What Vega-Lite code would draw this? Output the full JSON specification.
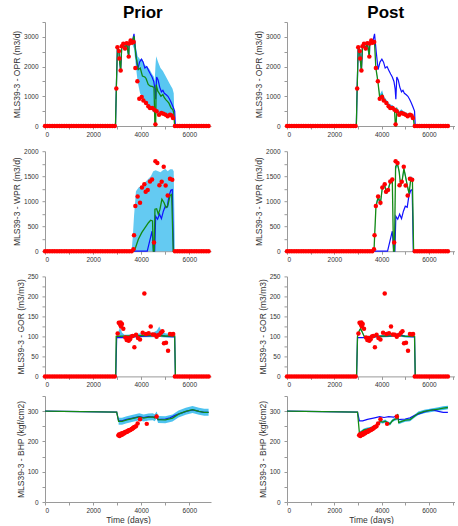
{
"$schema": "https://vega.github.io/schema/vega-lite/v6.json",
"padding": {"left": 12, "top": 4, "right": 0, "bottom": 0},
"autosize": {"type": "pad"},
"config": {
  "font": "Liberation Sans",
  "view": {"stroke": null},
  "axis": {"grid": false, "domainColor": "#9a9a9a", "tickColor": "#9a9a9a", "tickSize": 3, "labelFont": "Liberation Sans", "labelFontSize": 6.5, "labelColor": "#333333", "titleFont": "Liberation Sans", "titleFontSize": 8.5, "titleFontWeight": "normal", "titleColor": "#333333", "titlePadding": 2},
  "axisX": {"labelPadding": 2},
  "axisY": {"labelPadding": 4},
  "title": {"font": "Liberation Sans", "fontSize": 17, "fontWeight": "bold", "color": "#000000", "anchor": "middle", "offset": -0.5}
},
"datasets": {
"obs": [
{"var":"OPR","t":0,"val":0},{"var":"OPR","t":100,"val":0},{"var":"OPR","t":200,"val":0},{"var":"OPR","t":300,"val":0},{"var":"OPR","t":400,"val":0},{"var":"OPR","t":500,"val":0},{"var":"OPR","t":600,"val":0},{"var":"OPR","t":700,"val":0},{"var":"OPR","t":800,"val":0},{"var":"OPR","t":900,"val":0},{"var":"OPR","t":1000,"val":0},{"var":"OPR","t":1100,"val":0},{"var":"OPR","t":1200,"val":0},{"var":"OPR","t":1300,"val":0},{"var":"OPR","t":1400,"val":0},{"var":"OPR","t":1500,"val":0},{"var":"OPR","t":1600,"val":0},{"var":"OPR","t":1700,"val":0},{"var":"OPR","t":1800,"val":0},{"var":"OPR","t":1900,"val":0},{"var":"OPR","t":2000,"val":0},{"var":"OPR","t":2100,"val":0},{"var":"OPR","t":2200,"val":0},{"var":"OPR","t":2300,"val":0},{"var":"OPR","t":2400,"val":0},{"var":"OPR","t":2500,"val":0},{"var":"OPR","t":2600,"val":0},{"var":"OPR","t":2700,"val":0},{"var":"OPR","t":2800,"val":0},{"var":"OPR","t":2900,"val":0},
{"var":"OPR","t":2965,"val":1260},{"var":"OPR","t":3010,"val":2650},{"var":"OPR","t":3075,"val":2520},{"var":"OPR","t":3090,"val":2270},{"var":"OPR","t":3145,"val":1865},{"var":"OPR","t":3190,"val":2685},{"var":"OPR","t":3255,"val":2765},{"var":"OPR","t":3325,"val":2605},{"var":"OPR","t":3395,"val":2785},{"var":"OPR","t":3480,"val":2335},{"var":"OPR","t":3495,"val":2775},{"var":"OPR","t":3560,"val":2875},{"var":"OPR","t":3615,"val":2800},{"var":"OPR","t":3685,"val":2830},{"var":"OPR","t":3755,"val":1955},{"var":"OPR","t":3840,"val":1505},{"var":"OPR","t":3920,"val":920},{"var":"OPR","t":4020,"val":980},{"var":"OPR","t":4090,"val":855},{"var":"OPR","t":4200,"val":775},{"var":"OPR","t":4295,"val":665},{"var":"OPR","t":4365,"val":605},{"var":"OPR","t":4460,"val":605},{"var":"OPR","t":4545,"val":550},{"var":"OPR","t":4590,"val":55},{"var":"OPR","t":4640,"val":495},{"var":"OPR","t":4740,"val":380},{"var":"OPR","t":4835,"val":440},{"var":"OPR","t":4920,"val":415},{"var":"OPR","t":5015,"val":380},{"var":"OPR","t":5100,"val":325},{"var":"OPR","t":5195,"val":380},{"var":"OPR","t":5265,"val":350},{"var":"OPR","t":5320,"val":270},
{"var":"OPR","t":5400,"val":0},{"var":"OPR","t":5500,"val":0},{"var":"OPR","t":5600,"val":0},{"var":"OPR","t":5700,"val":0},{"var":"OPR","t":5800,"val":0},{"var":"OPR","t":5900,"val":0},{"var":"OPR","t":6000,"val":0},{"var":"OPR","t":6100,"val":0},{"var":"OPR","t":6200,"val":0},{"var":"OPR","t":6300,"val":0},{"var":"OPR","t":6400,"val":0},{"var":"OPR","t":6500,"val":0},{"var":"OPR","t":6600,"val":0},{"var":"OPR","t":6700,"val":0},{"var":"OPR","t":6800,"val":0},
{"var":"WPR","t":0,"val":0},{"var":"WPR","t":100,"val":0},{"var":"WPR","t":200,"val":0},{"var":"WPR","t":300,"val":0},{"var":"WPR","t":400,"val":0},{"var":"WPR","t":500,"val":0},{"var":"WPR","t":600,"val":0},{"var":"WPR","t":700,"val":0},{"var":"WPR","t":800,"val":0},{"var":"WPR","t":900,"val":0},{"var":"WPR","t":1000,"val":0},{"var":"WPR","t":1100,"val":0},{"var":"WPR","t":1200,"val":0},{"var":"WPR","t":1300,"val":0},{"var":"WPR","t":1400,"val":0},{"var":"WPR","t":1500,"val":0},{"var":"WPR","t":1600,"val":0},{"var":"WPR","t":1700,"val":0},{"var":"WPR","t":1800,"val":0},{"var":"WPR","t":1900,"val":0},{"var":"WPR","t":2000,"val":0},{"var":"WPR","t":2100,"val":0},{"var":"WPR","t":2200,"val":0},{"var":"WPR","t":2300,"val":0},{"var":"WPR","t":2400,"val":0},{"var":"WPR","t":2500,"val":0},{"var":"WPR","t":2600,"val":0},{"var":"WPR","t":2700,"val":0},{"var":"WPR","t":2800,"val":0},{"var":"WPR","t":2900,"val":0},{"var":"WPR","t":3000,"val":0},{"var":"WPR","t":3100,"val":0},{"var":"WPR","t":3200,"val":0},{"var":"WPR","t":3300,"val":0},{"var":"WPR","t":3400,"val":0},{"var":"WPR","t":3500,"val":0},{"var":"WPR","t":3600,"val":0},
{"var":"WPR","t":3675,"val":40},{"var":"WPR","t":3700,"val":320},{"var":"WPR","t":3755,"val":905},{"var":"WPR","t":3850,"val":1095},{"var":"WPR","t":3950,"val":970},{"var":"WPR","t":4030,"val":1275},{"var":"WPR","t":4130,"val":1340},{"var":"WPR","t":4185,"val":1190},{"var":"WPR","t":4270,"val":1225},{"var":"WPR","t":4365,"val":1395},{"var":"WPR","t":4450,"val":1435},{"var":"WPR","t":4530,"val":175},{"var":"WPR","t":4590,"val":1800},{"var":"WPR","t":4670,"val":1765},{"var":"WPR","t":4755,"val":1320},{"var":"WPR","t":4850,"val":1390},{"var":"WPR","t":4935,"val":1690},{"var":"WPR","t":5015,"val":1315},{"var":"WPR","t":5100,"val":1115},{"var":"WPR","t":5195,"val":1450},{"var":"WPR","t":5290,"val":1430},
{"var":"WPR","t":5400,"val":0},{"var":"WPR","t":5500,"val":0},{"var":"WPR","t":5600,"val":0},{"var":"WPR","t":5700,"val":0},{"var":"WPR","t":5800,"val":0},{"var":"WPR","t":5900,"val":0},{"var":"WPR","t":6000,"val":0},{"var":"WPR","t":6100,"val":0},{"var":"WPR","t":6200,"val":0},{"var":"WPR","t":6300,"val":0},{"var":"WPR","t":6400,"val":0},{"var":"WPR","t":6500,"val":0},{"var":"WPR","t":6600,"val":0},{"var":"WPR","t":6700,"val":0},{"var":"WPR","t":6800,"val":0},
{"var":"GOR","t":0,"val":0},{"var":"GOR","t":100,"val":0},{"var":"GOR","t":200,"val":0},{"var":"GOR","t":300,"val":0},{"var":"GOR","t":400,"val":0},{"var":"GOR","t":500,"val":0},{"var":"GOR","t":600,"val":0},{"var":"GOR","t":700,"val":0},{"var":"GOR","t":800,"val":0},{"var":"GOR","t":900,"val":0},{"var":"GOR","t":1000,"val":0},{"var":"GOR","t":1100,"val":0},{"var":"GOR","t":1200,"val":0},{"var":"GOR","t":1300,"val":0},{"var":"GOR","t":1400,"val":0},{"var":"GOR","t":1500,"val":0},{"var":"GOR","t":1600,"val":0},{"var":"GOR","t":1700,"val":0},{"var":"GOR","t":1800,"val":0},{"var":"GOR","t":1900,"val":0},{"var":"GOR","t":2000,"val":0},{"var":"GOR","t":2100,"val":0},{"var":"GOR","t":2200,"val":0},{"var":"GOR","t":2300,"val":0},{"var":"GOR","t":2400,"val":0},{"var":"GOR","t":2500,"val":0},{"var":"GOR","t":2600,"val":0},{"var":"GOR","t":2700,"val":0},{"var":"GOR","t":2800,"val":0},{"var":"GOR","t":2900,"val":0},
{"var":"GOR","t":3020,"val":107},{"var":"GOR","t":3065,"val":134},{"var":"GOR","t":3120,"val":130},{"var":"GOR","t":3145,"val":135},{"var":"GOR","t":3160,"val":125},{"var":"GOR","t":3200,"val":131},{"var":"GOR","t":3255,"val":119},{"var":"GOR","t":3340,"val":97},{"var":"GOR","t":3395,"val":91},{"var":"GOR","t":3435,"val":96},{"var":"GOR","t":3480,"val":89},{"var":"GOR","t":3535,"val":93},{"var":"GOR","t":3590,"val":100},{"var":"GOR","t":3645,"val":101},{"var":"GOR","t":3715,"val":73},{"var":"GOR","t":3785,"val":104},{"var":"GOR","t":3865,"val":96},{"var":"GOR","t":3950,"val":92},{"var":"GOR","t":4060,"val":109},{"var":"GOR","t":4130,"val":207},{"var":"GOR","t":4200,"val":106},{"var":"GOR","t":4310,"val":108},{"var":"GOR","t":4395,"val":125},{"var":"GOR","t":4475,"val":105},{"var":"GOR","t":4560,"val":104},{"var":"GOR","t":4640,"val":99},{"var":"GOR","t":4740,"val":104},{"var":"GOR","t":4820,"val":109},{"var":"GOR","t":4880,"val":113},{"var":"GOR","t":4945,"val":83},{"var":"GOR","t":5030,"val":84},{"var":"GOR","t":5115,"val":64},{"var":"GOR","t":5195,"val":106},{"var":"GOR","t":5280,"val":105},{"var":"GOR","t":5330,"val":106},
{"var":"GOR","t":5400,"val":0},{"var":"GOR","t":5500,"val":0},{"var":"GOR","t":5600,"val":0},{"var":"GOR","t":5700,"val":0},{"var":"GOR","t":5800,"val":0},{"var":"GOR","t":5900,"val":0},{"var":"GOR","t":6000,"val":0},{"var":"GOR","t":6100,"val":0},{"var":"GOR","t":6200,"val":0},{"var":"GOR","t":6300,"val":0},{"var":"GOR","t":6400,"val":0},{"var":"GOR","t":6500,"val":0},{"var":"GOR","t":6600,"val":0},{"var":"GOR","t":6700,"val":0},{"var":"GOR","t":6800,"val":0},
{"var":"BHP","t":3050,"val":220},{"var":"BHP","t":3075,"val":223},{"var":"BHP","t":3100,"val":218},{"var":"BHP","t":3125,"val":224},{"var":"BHP","t":3150,"val":221},{"var":"BHP","t":3175,"val":226},{"var":"BHP","t":3200,"val":222},{"var":"BHP","t":3225,"val":227},{"var":"BHP","t":3250,"val":225},{"var":"BHP","t":3275,"val":229},{"var":"BHP","t":3300,"val":227},{"var":"BHP","t":3330,"val":231},{"var":"BHP","t":3360,"val":230},{"var":"BHP","t":3390,"val":233},{"var":"BHP","t":3420,"val":232},{"var":"BHP","t":3450,"val":235},{"var":"BHP","t":3480,"val":236},{"var":"BHP","t":3510,"val":237},{"var":"BHP","t":3540,"val":238},{"var":"BHP","t":3570,"val":239},{"var":"BHP","t":3600,"val":241},{"var":"BHP","t":3630,"val":242},{"var":"BHP","t":3660,"val":244},{"var":"BHP","t":3690,"val":246},{"var":"BHP","t":3720,"val":248},{"var":"BHP","t":3780,"val":250},{"var":"BHP","t":3850,"val":259},{"var":"BHP","t":3950,"val":273},{"var":"BHP","t":4230,"val":258},{"var":"BHP","t":4640,"val":282}
],
"base": [
{"var":"OPR","t":0,"val":0},{"var":"OPR","t":2930,"val":0},{"var":"OPR","t":2965,"val":1260},{"var":"OPR","t":3010,"val":2650},{"var":"OPR","t":3075,"val":2520},{"var":"OPR","t":3090,"val":2270},{"var":"OPR","t":3145,"val":1865},{"var":"OPR","t":3190,"val":2685},{"var":"OPR","t":3255,"val":2765},{"var":"OPR","t":3325,"val":2605},{"var":"OPR","t":3395,"val":2785},{"var":"OPR","t":3480,"val":2335},{"var":"OPR","t":3495,"val":2775},{"var":"OPR","t":3560,"val":2875},{"var":"OPR","t":3615,"val":2800},{"var":"OPR","t":3700,"val":3100},{"var":"OPR","t":3770,"val":2500},{"var":"OPR","t":3850,"val":1900},{"var":"OPR","t":3930,"val":2150},{"var":"OPR","t":4010,"val":2250},{"var":"OPR","t":4080,"val":2150},{"var":"OPR","t":4150,"val":1950},{"var":"OPR","t":4230,"val":2000},{"var":"OPR","t":4300,"val":1880},{"var":"OPR","t":4380,"val":1750},{"var":"OPR","t":4450,"val":1650},{"var":"OPR","t":4520,"val":1500},{"var":"OPR","t":4570,"val":1250},{"var":"OPR","t":4600,"val":900},{"var":"OPR","t":4640,"val":1650},{"var":"OPR","t":4700,"val":1550},{"var":"OPR","t":4770,"val":1300},{"var":"OPR","t":4840,"val":1150},{"var":"OPR","t":4900,"val":1200},{"var":"OPR","t":4960,"val":1100},{"var":"OPR","t":5040,"val":1050},{"var":"OPR","t":5110,"val":1000},{"var":"OPR","t":5180,"val":900},{"var":"OPR","t":5250,"val":780},{"var":"OPR","t":5320,"val":650},{"var":"OPR","t":5390,"val":500},{"var":"OPR","t":5420,"val":0},{"var":"OPR","t":6800,"val":0},
{"var":"WPR","t":0,"val":0},{"var":"WPR","t":4250,"val":0},{"var":"WPR","t":4350,"val":200},{"var":"WPR","t":4450,"val":400},{"var":"WPR","t":4510,"val":0},{"var":"WPR","t":4560,"val":0},{"var":"WPR","t":4600,"val":700},{"var":"WPR","t":4680,"val":640},{"var":"WPR","t":4760,"val":740},{"var":"WPR","t":4840,"val":650},{"var":"WPR","t":4920,"val":800},{"var":"WPR","t":5000,"val":900},{"var":"WPR","t":5080,"val":880},{"var":"WPR","t":5150,"val":1100},{"var":"WPR","t":5230,"val":1220},{"var":"WPR","t":5290,"val":1230},{"var":"WPR","t":5340,"val":0},{"var":"WPR","t":6800,"val":0},
{"var":"GOR","t":0,"val":0},{"var":"GOR","t":2940,"val":0},{"var":"GOR","t":2980,"val":97},{"var":"GOR","t":3300,"val":97},{"var":"GOR","t":3600,"val":99},{"var":"GOR","t":4000,"val":100},{"var":"GOR","t":4400,"val":101},{"var":"GOR","t":4700,"val":106},{"var":"GOR","t":4800,"val":103},{"var":"GOR","t":5000,"val":100},{"var":"GOR","t":5390,"val":99},{"var":"GOR","t":5420,"val":0},{"var":"GOR","t":6800,"val":0},
{"var":"BHP","t":0,"val":300},{"var":"BHP","t":2980,"val":297},{"var":"BHP","t":3060,"val":268},{"var":"BHP","t":3200,"val":268},{"var":"BHP","t":3400,"val":273},{"var":"BHP","t":3700,"val":278},{"var":"BHP","t":3920,"val":282},{"var":"BHP","t":4100,"val":279},{"var":"BHP","t":4300,"val":282},{"var":"BHP","t":4500,"val":280},{"var":"BHP","t":4600,"val":284},{"var":"BHP","t":4700,"val":272},{"var":"BHP","t":5000,"val":274},{"var":"BHP","t":5200,"val":278},{"var":"BHP","t":5400,"val":286},{"var":"BHP","t":5600,"val":292},{"var":"BHP","t":5900,"val":300},{"var":"BHP","t":6150,"val":304},{"var":"BHP","t":6400,"val":299},{"var":"BHP","t":6600,"val":296},{"var":"BHP","t":6800,"val":296}
],
"best": [
{"run":"Prior","var":"OPR","t":0,"val":0},{"run":"Prior","var":"OPR","t":2930,"val":0},{"run":"Prior","var":"OPR","t":2965,"val":1260},{"run":"Prior","var":"OPR","t":3010,"val":2650},{"run":"Prior","var":"OPR","t":3075,"val":2520},{"run":"Prior","var":"OPR","t":3090,"val":2270},{"run":"Prior","var":"OPR","t":3145,"val":1865},{"run":"Prior","var":"OPR","t":3190,"val":2685},{"run":"Prior","var":"OPR","t":3255,"val":2765},{"run":"Prior","var":"OPR","t":3325,"val":2605},{"run":"Prior","var":"OPR","t":3395,"val":2785},{"run":"Prior","var":"OPR","t":3480,"val":2335},{"run":"Prior","var":"OPR","t":3495,"val":2775},{"run":"Prior","var":"OPR","t":3560,"val":2875},{"run":"Prior","var":"OPR","t":3615,"val":2800},{"run":"Prior","var":"OPR","t":3700,"val":3020},{"run":"Prior","var":"OPR","t":3780,"val":2350},{"run":"Prior","var":"OPR","t":3880,"val":1900},{"run":"Prior","var":"OPR","t":3960,"val":1950},{"run":"Prior","var":"OPR","t":4050,"val":1680},{"run":"Prior","var":"OPR","t":4150,"val":1650},{"run":"Prior","var":"OPR","t":4200,"val":1600},{"run":"Prior","var":"OPR","t":4290,"val":1400},{"run":"Prior","var":"OPR","t":4380,"val":1340},{"run":"Prior","var":"OPR","t":4450,"val":1330},{"run":"Prior","var":"OPR","t":4530,"val":1300},{"run":"Prior","var":"OPR","t":4570,"val":0},{"run":"Prior","var":"OPR","t":4600,"val":0},{"run":"Prior","var":"OPR","t":4620,"val":1390},{"run":"Prior","var":"OPR","t":4690,"val":1170},{"run":"Prior","var":"OPR","t":4750,"val":1100},{"run":"Prior","var":"OPR","t":4820,"val":1000},{"run":"Prior","var":"OPR","t":4900,"val":1060},{"run":"Prior","var":"OPR","t":4960,"val":950},{"run":"Prior","var":"OPR","t":5030,"val":880},{"run":"Prior","var":"OPR","t":5100,"val":820},{"run":"Prior","var":"OPR","t":5150,"val":770},{"run":"Prior","var":"OPR","t":5240,"val":610},{"run":"Prior","var":"OPR","t":5310,"val":550},{"run":"Prior","var":"OPR","t":5350,"val":450},{"run":"Prior","var":"OPR","t":5390,"val":0},{"run":"Prior","var":"OPR","t":6800,"val":0},
{"run":"Post","var":"OPR","t":0,"val":0},{"run":"Post","var":"OPR","t":2930,"val":0},{"run":"Post","var":"OPR","t":2965,"val":1260},{"run":"Post","var":"OPR","t":3010,"val":2650},{"run":"Post","var":"OPR","t":3075,"val":2520},{"run":"Post","var":"OPR","t":3090,"val":2270},{"run":"Post","var":"OPR","t":3145,"val":1865},{"run":"Post","var":"OPR","t":3190,"val":2685},{"run":"Post","var":"OPR","t":3255,"val":2765},{"run":"Post","var":"OPR","t":3325,"val":2605},{"run":"Post","var":"OPR","t":3395,"val":2785},{"run":"Post","var":"OPR","t":3480,"val":2335},{"run":"Post","var":"OPR","t":3495,"val":2775},{"run":"Post","var":"OPR","t":3560,"val":2875},{"run":"Post","var":"OPR","t":3615,"val":2800},{"run":"Post","var":"OPR","t":3700,"val":2800},{"run":"Post","var":"OPR","t":3755,"val":1955},{"run":"Post","var":"OPR","t":3840,"val":1500},{"run":"Post","var":"OPR","t":3920,"val":950},{"run":"Post","var":"OPR","t":4020,"val":1050},{"run":"Post","var":"OPR","t":4090,"val":880},{"run":"Post","var":"OPR","t":4200,"val":780},{"run":"Post","var":"OPR","t":4295,"val":680},{"run":"Post","var":"OPR","t":4365,"val":620},{"run":"Post","var":"OPR","t":4460,"val":600},{"run":"Post","var":"OPR","t":4545,"val":540},{"run":"Post","var":"OPR","t":4580,"val":0},{"run":"Post","var":"OPR","t":4610,"val":0},{"run":"Post","var":"OPR","t":4640,"val":560},{"run":"Post","var":"OPR","t":4740,"val":420},{"run":"Post","var":"OPR","t":4835,"val":480},{"run":"Post","var":"OPR","t":4920,"val":430},{"run":"Post","var":"OPR","t":5015,"val":400},{"run":"Post","var":"OPR","t":5100,"val":360},{"run":"Post","var":"OPR","t":5195,"val":390},{"run":"Post","var":"OPR","t":5265,"val":360},{"run":"Post","var":"OPR","t":5335,"val":300},{"run":"Post","var":"OPR","t":5380,"val":0},{"run":"Post","var":"OPR","t":6800,"val":0},
{"run":"Prior","var":"WPR","t":0,"val":0},{"run":"Prior","var":"WPR","t":3690,"val":0},{"run":"Prior","var":"WPR","t":3740,"val":40},{"run":"Prior","var":"WPR","t":3880,"val":240},{"run":"Prior","var":"WPR","t":4020,"val":370},{"run":"Prior","var":"WPR","t":4160,"val":470},{"run":"Prior","var":"WPR","t":4300,"val":570},{"run":"Prior","var":"WPR","t":4390,"val":620},{"run":"Prior","var":"WPR","t":4470,"val":605},{"run":"Prior","var":"WPR","t":4500,"val":0},{"run":"Prior","var":"WPR","t":4540,"val":0},{"run":"Prior","var":"WPR","t":4570,"val":840},{"run":"Prior","var":"WPR","t":4640,"val":850},{"run":"Prior","var":"WPR","t":4710,"val":740},{"run":"Prior","var":"WPR","t":4780,"val":840},{"run":"Prior","var":"WPR","t":4860,"val":1040},{"run":"Prior","var":"WPR","t":4950,"val":970},{"run":"Prior","var":"WPR","t":5030,"val":870},{"run":"Prior","var":"WPR","t":5100,"val":900},{"run":"Prior","var":"WPR","t":5200,"val":1115},{"run":"Prior","var":"WPR","t":5265,"val":1135},{"run":"Prior","var":"WPR","t":5330,"val":0},{"run":"Prior","var":"WPR","t":6800,"val":0},
{"run":"Post","var":"WPR","t":0,"val":0},{"run":"Post","var":"WPR","t":3650,"val":0},{"run":"Post","var":"WPR","t":3680,"val":40},{"run":"Post","var":"WPR","t":3705,"val":320},{"run":"Post","var":"WPR","t":3760,"val":900},{"run":"Post","var":"WPR","t":3850,"val":1075},{"run":"Post","var":"WPR","t":3950,"val":965},{"run":"Post","var":"WPR","t":4030,"val":1275},{"run":"Post","var":"WPR","t":4130,"val":1320},{"run":"Post","var":"WPR","t":4190,"val":1190},{"run":"Post","var":"WPR","t":4270,"val":1220},{"run":"Post","var":"WPR","t":4365,"val":1385},{"run":"Post","var":"WPR","t":4450,"val":1430},{"run":"Post","var":"WPR","t":4500,"val":0},{"run":"Post","var":"WPR","t":4540,"val":0},{"run":"Post","var":"WPR","t":4590,"val":1690},{"run":"Post","var":"WPR","t":4670,"val":1750},{"run":"Post","var":"WPR","t":4740,"val":1590},{"run":"Post","var":"WPR","t":4800,"val":1320},{"run":"Post","var":"WPR","t":4860,"val":1390},{"run":"Post","var":"WPR","t":4940,"val":1650},{"run":"Post","var":"WPR","t":5010,"val":1490},{"run":"Post","var":"WPR","t":5080,"val":1320},{"run":"Post","var":"WPR","t":5160,"val":1150},{"run":"Post","var":"WPR","t":5230,"val":1450},{"run":"Post","var":"WPR","t":5300,"val":1430},{"run":"Post","var":"WPR","t":5350,"val":0},{"run":"Post","var":"WPR","t":6800,"val":0},
{"run":"Prior","var":"GOR","t":0,"val":0},{"run":"Prior","var":"GOR","t":2940,"val":0},{"run":"Prior","var":"GOR","t":2960,"val":100},{"run":"Prior","var":"GOR","t":3500,"val":101},{"run":"Prior","var":"GOR","t":4000,"val":102},{"run":"Prior","var":"GOR","t":4500,"val":102},{"run":"Prior","var":"GOR","t":5000,"val":101},{"run":"Prior","var":"GOR","t":5390,"val":101},{"run":"Prior","var":"GOR","t":5420,"val":0},{"run":"Prior","var":"GOR","t":6800,"val":0},
{"run":"Post","var":"GOR","t":0,"val":0},{"run":"Post","var":"GOR","t":2940,"val":0},{"run":"Post","var":"GOR","t":2980,"val":100},{"run":"Post","var":"GOR","t":3060,"val":115},{"run":"Post","var":"GOR","t":3110,"val":119},{"run":"Post","var":"GOR","t":3170,"val":112},{"run":"Post","var":"GOR","t":3260,"val":100},{"run":"Post","var":"GOR","t":3350,"val":97},{"run":"Post","var":"GOR","t":3500,"val":99},{"run":"Post","var":"GOR","t":3800,"val":100},{"run":"Post","var":"GOR","t":4200,"val":101},{"run":"Post","var":"GOR","t":4500,"val":102},{"run":"Post","var":"GOR","t":4700,"val":104},{"run":"Post","var":"GOR","t":4800,"val":102},{"run":"Post","var":"GOR","t":5000,"val":100},{"run":"Post","var":"GOR","t":5390,"val":100},{"run":"Post","var":"GOR","t":5420,"val":0},{"run":"Post","var":"GOR","t":6800,"val":0},
{"run":"Prior","var":"BHP","t":0,"val":300},{"run":"Prior","var":"BHP","t":2980,"val":297},{"run":"Prior","var":"BHP","t":3060,"val":266},{"run":"Prior","var":"BHP","t":3200,"val":266},{"run":"Prior","var":"BHP","t":3400,"val":271},{"run":"Prior","var":"BHP","t":3700,"val":277},{"run":"Prior","var":"BHP","t":3920,"val":281},{"run":"Prior","var":"BHP","t":4100,"val":277},{"run":"Prior","var":"BHP","t":4300,"val":280},{"run":"Prior","var":"BHP","t":4480,"val":281},{"run":"Prior","var":"BHP","t":4560,"val":278},{"run":"Prior","var":"BHP","t":4640,"val":287},{"run":"Prior","var":"BHP","t":4700,"val":272},{"run":"Prior","var":"BHP","t":5000,"val":271},{"run":"Prior","var":"BHP","t":5300,"val":277},{"run":"Prior","var":"BHP","t":5550,"val":290},{"run":"Prior","var":"BHP","t":5850,"val":299},{"run":"Prior","var":"BHP","t":6130,"val":305},{"run":"Prior","var":"BHP","t":6400,"val":299},{"run":"Prior","var":"BHP","t":6620,"val":296},{"run":"Prior","var":"BHP","t":6800,"val":296},
{"run":"Post","var":"BHP","t":0,"val":300},{"run":"Post","var":"BHP","t":2980,"val":297},{"run":"Post","var":"BHP","t":3060,"val":228},{"run":"Post","var":"BHP","t":3150,"val":232},{"run":"Post","var":"BHP","t":3250,"val":238},{"run":"Post","var":"BHP","t":3350,"val":240},{"run":"Post","var":"BHP","t":3500,"val":243},{"run":"Post","var":"BHP","t":3650,"val":246},{"run":"Post","var":"BHP","t":3780,"val":252},{"run":"Post","var":"BHP","t":3880,"val":262},{"run":"Post","var":"BHP","t":3950,"val":266},{"run":"Post","var":"BHP","t":4050,"val":264},{"run":"Post","var":"BHP","t":4150,"val":267},{"run":"Post","var":"BHP","t":4250,"val":262},{"run":"Post","var":"BHP","t":4350,"val":258},{"run":"Post","var":"BHP","t":4450,"val":268},{"run":"Post","var":"BHP","t":4550,"val":273},{"run":"Post","var":"BHP","t":4640,"val":275},{"run":"Post","var":"BHP","t":4680,"val":290},{"run":"Post","var":"BHP","t":4720,"val":262},{"run":"Post","var":"BHP","t":4850,"val":266},{"run":"Post","var":"BHP","t":5000,"val":270},{"run":"Post","var":"BHP","t":5200,"val":272},{"run":"Post","var":"BHP","t":5400,"val":284},{"run":"Post","var":"BHP","t":5550,"val":293},{"run":"Post","var":"BHP","t":5800,"val":299},{"run":"Post","var":"BHP","t":6100,"val":303},{"run":"Post","var":"BHP","t":6400,"val":307},{"run":"Post","var":"BHP","t":6600,"val":310},{"run":"Post","var":"BHP","t":6800,"val":312}
],
"band": [
{"run":"Prior","var":"OPR","t":3615,"val":2780,"hi":2820},{"run":"Prior","var":"OPR","t":3700,"val":2600,"hi":3050},{"run":"Prior","var":"OPR","t":3780,"val":2000,"hi":2650},{"run":"Prior","var":"OPR","t":3850,"val":1500,"hi":2350},{"run":"Prior","var":"OPR","t":3950,"val":1100,"hi":2250},{"run":"Prior","var":"OPR","t":4050,"val":950,"hi":2250},{"run":"Prior","var":"OPR","t":4150,"val":800,"hi":2050},{"run":"Prior","var":"OPR","t":4250,"val":700,"hi":2000},{"run":"Prior","var":"OPR","t":4350,"val":620,"hi":1900},{"run":"Prior","var":"OPR","t":4450,"val":520,"hi":1750},{"run":"Prior","var":"OPR","t":4530,"val":450,"hi":1650},{"run":"Prior","var":"OPR","t":4560,"val":0,"hi":1500},{"run":"Prior","var":"OPR","t":4590,"val":0,"hi":2000},{"run":"Prior","var":"OPR","t":4620,"val":450,"hi":2350},{"run":"Prior","var":"OPR","t":4700,"val":420,"hi":2150},{"run":"Prior","var":"OPR","t":4800,"val":400,"hi":1950},{"run":"Prior","var":"OPR","t":4900,"val":380,"hi":1850},{"run":"Prior","var":"OPR","t":5000,"val":350,"hi":1700},{"run":"Prior","var":"OPR","t":5100,"val":320,"hi":1550},{"run":"Prior","var":"OPR","t":5200,"val":300,"hi":1400},{"run":"Prior","var":"OPR","t":5300,"val":280,"hi":1250},{"run":"Prior","var":"OPR","t":5350,"val":250,"hi":1100},{"run":"Prior","var":"OPR","t":5390,"val":0,"hi":0},
{"run":"Post","var":"OPR","t":3700,"val":2780,"hi":2830},{"run":"Post","var":"OPR","t":3755,"val":1930,"hi":2000},{"run":"Post","var":"OPR","t":3840,"val":1480,"hi":1560},{"run":"Post","var":"OPR","t":3920,"val":930,"hi":1050},{"run":"Post","var":"OPR","t":4020,"val":1020,"hi":1200},{"run":"Post","var":"OPR","t":4090,"val":860,"hi":1000},{"run":"Post","var":"OPR","t":4200,"val":760,"hi":880},{"run":"Post","var":"OPR","t":4295,"val":650,"hi":780},{"run":"Post","var":"OPR","t":4365,"val":600,"hi":720},{"run":"Post","var":"OPR","t":4460,"val":580,"hi":700},{"run":"Post","var":"OPR","t":4545,"val":520,"hi":640},{"run":"Post","var":"OPR","t":4580,"val":0,"hi":40},{"run":"Post","var":"OPR","t":4610,"val":0,"hi":40},{"run":"Post","var":"OPR","t":4640,"val":540,"hi":650},{"run":"Post","var":"OPR","t":4740,"val":400,"hi":500},{"run":"Post","var":"OPR","t":4835,"val":460,"hi":560},{"run":"Post","var":"OPR","t":4920,"val":410,"hi":500},{"run":"Post","var":"OPR","t":5015,"val":380,"hi":460},{"run":"Post","var":"OPR","t":5100,"val":340,"hi":420},{"run":"Post","var":"OPR","t":5195,"val":370,"hi":440},{"run":"Post","var":"OPR","t":5265,"val":340,"hi":400},{"run":"Post","var":"OPR","t":5335,"val":280,"hi":330},{"run":"Post","var":"OPR","t":5380,"val":0,"hi":0},
{"run":"Prior","var":"WPR","t":3600,"val":0,"hi":0},{"run":"Prior","var":"WPR","t":3650,"val":0,"hi":300},{"run":"Prior","var":"WPR","t":3700,"val":0,"hi":700},{"run":"Prior","var":"WPR","t":3780,"val":0,"hi":1200},{"run":"Prior","var":"WPR","t":3900,"val":0,"hi":1280},{"run":"Prior","var":"WPR","t":4000,"val":0,"hi":1300},{"run":"Prior","var":"WPR","t":4100,"val":0,"hi":1350},{"run":"Prior","var":"WPR","t":4200,"val":0,"hi":1400},{"run":"Prior","var":"WPR","t":4300,"val":0,"hi":1450},{"run":"Prior","var":"WPR","t":4400,"val":0,"hi":1500},{"run":"Prior","var":"WPR","t":4500,"val":0,"hi":1600},{"run":"Prior","var":"WPR","t":4600,"val":0,"hi":1620},{"run":"Prior","var":"WPR","t":4700,"val":0,"hi":1600},{"run":"Prior","var":"WPR","t":4800,"val":0,"hi":1580},{"run":"Prior","var":"WPR","t":4900,"val":0,"hi":1620},{"run":"Prior","var":"WPR","t":5000,"val":0,"hi":1650},{"run":"Prior","var":"WPR","t":5100,"val":0,"hi":1600},{"run":"Prior","var":"WPR","t":5200,"val":0,"hi":1640},{"run":"Prior","var":"WPR","t":5300,"val":0,"hi":1640},{"run":"Prior","var":"WPR","t":5350,"val":0,"hi":1600},{"run":"Prior","var":"WPR","t":5400,"val":0,"hi":0},
{"run":"Post","var":"WPR","t":3680,"val":0,"hi":60},{"run":"Post","var":"WPR","t":3705,"val":280,"hi":360},{"run":"Post","var":"WPR","t":3760,"val":850,"hi":960},{"run":"Post","var":"WPR","t":3850,"val":1020,"hi":1120},{"run":"Post","var":"WPR","t":3950,"val":900,"hi":1030},{"run":"Post","var":"WPR","t":4030,"val":1220,"hi":1320},{"run":"Post","var":"WPR","t":4130,"val":1270,"hi":1370},{"run":"Post","var":"WPR","t":4190,"val":1140,"hi":1240},{"run":"Post","var":"WPR","t":4270,"val":1170,"hi":1270},{"run":"Post","var":"WPR","t":4365,"val":1340,"hi":1440},{"run":"Post","var":"WPR","t":4450,"val":1380,"hi":1480},{"run":"Post","var":"WPR","t":4500,"val":0,"hi":30},{"run":"Post","var":"WPR","t":4540,"val":0,"hi":30},{"run":"Post","var":"WPR","t":4590,"val":1630,"hi":1730},{"run":"Post","var":"WPR","t":4670,"val":1700,"hi":1790},{"run":"Post","var":"WPR","t":4740,"val":1540,"hi":1630},{"run":"Post","var":"WPR","t":4800,"val":1270,"hi":1370},{"run":"Post","var":"WPR","t":4860,"val":1340,"hi":1440},{"run":"Post","var":"WPR","t":4940,"val":1600,"hi":1700},{"run":"Post","var":"WPR","t":5010,"val":1440,"hi":1540},{"run":"Post","var":"WPR","t":5080,"val":1270,"hi":1370},{"run":"Post","var":"WPR","t":5160,"val":1100,"hi":1200},{"run":"Post","var":"WPR","t":5230,"val":1400,"hi":1500},{"run":"Post","var":"WPR","t":5300,"val":1380,"hi":1480},{"run":"Post","var":"WPR","t":5350,"val":0,"hi":0},
{"run":"Prior","var":"GOR","t":2970,"val":97,"hi":103},{"run":"Prior","var":"GOR","t":3050,"val":97,"hi":112},{"run":"Prior","var":"GOR","t":3120,"val":98,"hi":122},{"run":"Prior","var":"GOR","t":3200,"val":97,"hi":110},{"run":"Prior","var":"GOR","t":3300,"val":96,"hi":104},{"run":"Prior","var":"GOR","t":3600,"val":97,"hi":105},{"run":"Prior","var":"GOR","t":4000,"val":98,"hi":108},{"run":"Prior","var":"GOR","t":4300,"val":98,"hi":108},{"run":"Prior","var":"GOR","t":4500,"val":98,"hi":110},{"run":"Prior","var":"GOR","t":4650,"val":98,"hi":115},{"run":"Prior","var":"GOR","t":4750,"val":99,"hi":125},{"run":"Prior","var":"GOR","t":4850,"val":98,"hi":112},{"run":"Prior","var":"GOR","t":5000,"val":97,"hi":108},{"run":"Prior","var":"GOR","t":5200,"val":97,"hi":106},{"run":"Prior","var":"GOR","t":5390,"val":97,"hi":105},
{"run":"Post","var":"GOR","t":2980,"val":97,"hi":103},{"run":"Post","var":"GOR","t":3060,"val":112,"hi":118},{"run":"Post","var":"GOR","t":3110,"val":116,"hi":122},{"run":"Post","var":"GOR","t":3170,"val":109,"hi":115},{"run":"Post","var":"GOR","t":3260,"val":97,"hi":103},{"run":"Post","var":"GOR","t":3350,"val":94,"hi":100},{"run":"Post","var":"GOR","t":3500,"val":96,"hi":102},{"run":"Post","var":"GOR","t":3800,"val":97,"hi":103},{"run":"Post","var":"GOR","t":4200,"val":98,"hi":104},{"run":"Post","var":"GOR","t":4500,"val":99,"hi":105},{"run":"Post","var":"GOR","t":4700,"val":101,"hi":107},{"run":"Post","var":"GOR","t":4800,"val":99,"hi":105},{"run":"Post","var":"GOR","t":5000,"val":97,"hi":103},{"run":"Post","var":"GOR","t":5390,"val":97,"hi":103},
{"run":"Prior","var":"BHP","t":3060,"val":255,"hi":278},{"run":"Prior","var":"BHP","t":3200,"val":255,"hi":278},{"run":"Prior","var":"BHP","t":3400,"val":260,"hi":283},{"run":"Prior","var":"BHP","t":3700,"val":266,"hi":289},{"run":"Prior","var":"BHP","t":3920,"val":270,"hi":293},{"run":"Prior","var":"BHP","t":4100,"val":266,"hi":289},{"run":"Prior","var":"BHP","t":4300,"val":269,"hi":292},{"run":"Prior","var":"BHP","t":4480,"val":270,"hi":293},{"run":"Prior","var":"BHP","t":4560,"val":267,"hi":290},{"run":"Prior","var":"BHP","t":4640,"val":276,"hi":299},{"run":"Prior","var":"BHP","t":4700,"val":261,"hi":284},{"run":"Prior","var":"BHP","t":5000,"val":260,"hi":283},{"run":"Prior","var":"BHP","t":5300,"val":266,"hi":289},{"run":"Prior","var":"BHP","t":5550,"val":279,"hi":302},{"run":"Prior","var":"BHP","t":5850,"val":288,"hi":311},{"run":"Prior","var":"BHP","t":6130,"val":294,"hi":317},{"run":"Prior","var":"BHP","t":6400,"val":288,"hi":311},{"run":"Prior","var":"BHP","t":6620,"val":285,"hi":308},{"run":"Prior","var":"BHP","t":6800,"val":285,"hi":308},
{"run":"Post","var":"BHP","t":3060,"val":223,"hi":233},{"run":"Post","var":"BHP","t":3150,"val":227,"hi":237},{"run":"Post","var":"BHP","t":3250,"val":233,"hi":243},{"run":"Post","var":"BHP","t":3350,"val":235,"hi":245},{"run":"Post","var":"BHP","t":3500,"val":238,"hi":248},{"run":"Post","var":"BHP","t":3650,"val":241,"hi":251},{"run":"Post","var":"BHP","t":3780,"val":247,"hi":257},{"run":"Post","var":"BHP","t":3880,"val":257,"hi":267},{"run":"Post","var":"BHP","t":3950,"val":261,"hi":271},{"run":"Post","var":"BHP","t":4050,"val":259,"hi":269},{"run":"Post","var":"BHP","t":4150,"val":262,"hi":272},{"run":"Post","var":"BHP","t":4250,"val":257,"hi":267},{"run":"Post","var":"BHP","t":4350,"val":253,"hi":263},{"run":"Post","var":"BHP","t":4450,"val":263,"hi":273},{"run":"Post","var":"BHP","t":4550,"val":268,"hi":278},{"run":"Post","var":"BHP","t":4640,"val":270,"hi":280},{"run":"Post","var":"BHP","t":4680,"val":285,"hi":295},{"run":"Post","var":"BHP","t":4720,"val":257,"hi":267},{"run":"Post","var":"BHP","t":4850,"val":261,"hi":271},{"run":"Post","var":"BHP","t":5000,"val":265,"hi":275},{"run":"Post","var":"BHP","t":5200,"val":267,"hi":277},{"run":"Post","var":"BHP","t":5400,"val":279,"hi":289},{"run":"Post","var":"BHP","t":5550,"val":287,"hi":299},{"run":"Post","var":"BHP","t":5800,"val":293,"hi":305},{"run":"Post","var":"BHP","t":6100,"val":297,"hi":309},{"run":"Post","var":"BHP","t":6400,"val":301,"hi":313},{"run":"Post","var":"BHP","t":6600,"val":304,"hi":316},{"run":"Post","var":"BHP","t":6800,"val":306,"hi":318}
]
},
"spacing": 42,
"hconcat": [
{
 "title": {"text": "Prior", "dx": 31},
 "spacing": 7,
 "vconcat": [
  {"spacing": 10.2, "vconcat": [
   {"width": 166, "height": 104,
    "encoding": {
     "x": {"field": "t", "type": "quantitative", "scale": {"domain": [0, 6900], "nice": false}, "axis": {"values": [0,1000,2000,3000,4000,5000,6000], "labelExpr": "datum.value % 2000 === 0 ? datum.label : ''", "format": "d", "title": null}},
     "y": {"field": "val", "type": "quantitative", "scale": {"domain": [0, 3500], "nice": false}, "axis": {"values": [0,500,1000,1500,2000,2500,3000,3500], "labelExpr": "datum.value % 1000 === 0 && datum.value < 3500 ? datum.label : ''", "format": "d", "title": "MLS39-3 - OPR (m3/d)"}}
    },
    "layer": [
     {"data": {"name": "band"}, "transform": [{"filter": "datum.run === 'Prior' && datum.var === 'OPR'"}], "mark": {"type": "area", "color": "#22B4EC", "opacity": 0.75}, "encoding": {"y2": {"field": "hi"}}},
     {"data": {"name": "base"}, "transform": [{"filter": "datum.var === 'OPR'"}], "mark": {"type": "line", "color": "#1010FF", "strokeWidth": 1.2}, "encoding": {}},
     {"data": {"name": "best"}, "transform": [{"filter": "datum.run === 'Prior' && datum.var === 'OPR'"}], "mark": {"type": "line", "color": "#138A13", "strokeWidth": 1.3}, "encoding": {}},
     {"data": {"name": "obs"}, "transform": [{"filter": "datum.var === 'OPR'"}], "mark": {"type": "circle", "color": "#FF0000", "size": 20, "opacity": 1}, "encoding": {}}
    ]},
   {"width": 166, "height": 100,
    "encoding": {
     "x": {"field": "t", "type": "quantitative", "scale": {"domain": [0, 6900], "nice": false}, "axis": {"values": [0,1000,2000,3000,4000,5000,6000], "labelExpr": "datum.value % 2000 === 0 ? datum.label : ''", "format": "d", "title": null}},
     "y": {"field": "val", "type": "quantitative", "scale": {"domain": [0, 2000], "nice": false}, "axis": {"values": [0,250,500,750,1000,1250,1500,1750,2000], "labelExpr": "datum.value % 500 === 0 ? datum.label : ''", "format": "d", "title": "MLS39-3 - WPR (m3/d)"}}
    },
    "layer": [
     {"data": {"name": "band"}, "transform": [{"filter": "datum.run === 'Prior' && datum.var === 'WPR'"}], "mark": {"type": "area", "color": "#22B4EC", "opacity": 0.7}, "encoding": {"y2": {"field": "hi"}}},
     {"data": {"name": "base"}, "transform": [{"filter": "datum.var === 'WPR'"}], "mark": {"type": "line", "color": "#1010FF", "strokeWidth": 1.2}, "encoding": {}},
     {"data": {"name": "best"}, "transform": [{"filter": "datum.run === 'Prior' && datum.var === 'WPR'"}], "mark": {"type": "line", "color": "#138A13", "strokeWidth": 1.3}, "encoding": {}},
     {"data": {"name": "obs"}, "transform": [{"filter": "datum.var === 'WPR'"}], "mark": {"type": "circle", "color": "#FF0000", "size": 20, "opacity": 1}, "encoding": {}}
    ]},
   {"width": 166, "height": 100,
    "encoding": {
     "x": {"field": "t", "type": "quantitative", "scale": {"domain": [0, 6900], "nice": false}, "axis": {"values": [0,1000,2000,3000,4000,5000,6000], "labelExpr": "datum.value % 2000 === 0 ? datum.label : ''", "format": "d", "title": null}},
     "y": {"field": "val", "type": "quantitative", "scale": {"domain": [0, 250], "nice": false}, "axis": {"values": [0,25,50,75,100,125,150,175,200,225,250], "labelExpr": "datum.value % 50 === 0 ? datum.label : ''", "format": "d", "title": "MLS39-3 - GOR (m3/m3)"}}
    },
    "layer": [
     {"data": {"name": "band"}, "transform": [{"filter": "datum.run === 'Prior' && datum.var === 'GOR'"}], "mark": {"type": "area", "color": "#22B4EC", "opacity": 0.8}, "encoding": {"y2": {"field": "hi"}}},
     {"data": {"name": "base"}, "transform": [{"filter": "datum.var === 'GOR'"}], "mark": {"type": "line", "color": "#1010FF", "strokeWidth": 1.2}, "encoding": {}},
     {"data": {"name": "best"}, "transform": [{"filter": "datum.run === 'Prior' && datum.var === 'GOR'"}], "mark": {"type": "line", "color": "#138A13", "strokeWidth": 1.3}, "encoding": {}},
     {"data": {"name": "obs"}, "transform": [{"filter": "datum.var === 'GOR'"}], "mark": {"type": "circle", "color": "#FF0000", "size": 20, "opacity": 1}, "encoding": {}}
    ]}
  ]},
  {"width": 166, "height": 106,
   "encoding": {
    "x": {"field": "t", "type": "quantitative", "scale": {"domain": [0, 6900], "nice": false}, "axis": {"values": [0,1000,2000,3000,4000,5000,6000], "labelExpr": "datum.value % 2000 === 0 ? datum.label : ''", "format": "d", "title": "Time (days)"}},
    "y": {"field": "val", "type": "quantitative", "scale": {"domain": [0, 350], "nice": false}, "axis": {"values": [0,50,100,150,200,250,300,350], "labelExpr": "datum.value % 100 === 0 ? datum.label : ''", "format": "d", "title": "MLS39-3 - BHP (kgf/cm2)"}}
   },
   "layer": [
    {"data": {"name": "band"}, "transform": [{"filter": "datum.run === 'Prior' && datum.var === 'BHP'"}], "mark": {"type": "area", "color": "#22B4EC", "opacity": 0.8}, "encoding": {"y2": {"field": "hi"}}},
    {"data": {"name": "base"}, "transform": [{"filter": "datum.var === 'BHP'"}], "mark": {"type": "line", "color": "#1010FF", "strokeWidth": 1.2}, "encoding": {}},
    {"data": {"name": "best"}, "transform": [{"filter": "datum.run === 'Prior' && datum.var === 'BHP'"}], "mark": {"type": "line", "color": "#138A13", "strokeWidth": 1.3}, "encoding": {}},
    {"data": {"name": "obs"}, "transform": [{"filter": "datum.var === 'BHP'"}], "mark": {"type": "circle", "color": "#FF0000", "size": 20, "opacity": 1}, "encoding": {}}
   ]}
 ]
},
{
 "title": {"text": "Post", "dx": 31},
 "spacing": 7,
 "vconcat": [
  {"spacing": 10.2, "vconcat": [
   {"width": 168, "height": 104,
    "encoding": {
     "x": {"field": "t", "type": "quantitative", "scale": {"domain": [0, 7100], "nice": false}, "axis": {"values": [0,1000,2000,3000,4000,5000,6000,7000], "labelExpr": "datum.value % 2000 === 0 ? datum.label : ''", "format": "d", "title": null}},
     "y": {"field": "val", "type": "quantitative", "scale": {"domain": [0, 3500], "nice": false}, "axis": {"values": [0,500,1000,1500,2000,2500,3000,3500], "labelExpr": "datum.value % 1000 === 0 && datum.value < 3500 ? datum.label : ''", "format": "d", "title": "MLS39-3 - OPR (m3/d)"}}
    },
    "layer": [
     {"data": {"name": "band"}, "transform": [{"filter": "datum.run === 'Post' && datum.var === 'OPR'"}], "mark": {"type": "area", "color": "#22B4EC", "opacity": 0.9}, "encoding": {"y2": {"field": "hi"}}},
     {"data": {"name": "base"}, "transform": [{"filter": "datum.var === 'OPR'"}], "mark": {"type": "line", "color": "#1010FF", "strokeWidth": 1.2}, "encoding": {}},
     {"data": {"name": "best"}, "transform": [{"filter": "datum.run === 'Post' && datum.var === 'OPR'"}], "mark": {"type": "line", "color": "#138A13", "strokeWidth": 1.3}, "encoding": {}},
     {"data": {"name": "obs"}, "transform": [{"filter": "datum.var === 'OPR'"}], "mark": {"type": "circle", "color": "#FF0000", "size": 20, "opacity": 1}, "encoding": {}}
    ]},
   {"width": 168, "height": 100,
    "encoding": {
     "x": {"field": "t", "type": "quantitative", "scale": {"domain": [0, 7100], "nice": false}, "axis": {"values": [0,1000,2000,3000,4000,5000,6000,7000], "labelExpr": "datum.value % 2000 === 0 ? datum.label : ''", "format": "d", "title": null}},
     "y": {"field": "val", "type": "quantitative", "scale": {"domain": [0, 2000], "nice": false}, "axis": {"values": [0,250,500,750,1000,1250,1500,1750,2000], "labelExpr": "datum.value % 500 === 0 ? datum.label : ''", "format": "d", "title": "MLS39-3 - WPR (m3/d)"}}
    },
    "layer": [
     {"data": {"name": "band"}, "transform": [{"filter": "datum.run === 'Post' && datum.var === 'WPR'"}], "mark": {"type": "area", "color": "#22B4EC", "opacity": 0.9}, "encoding": {"y2": {"field": "hi"}}},
     {"data": {"name": "base"}, "transform": [{"filter": "datum.var === 'WPR'"}], "mark": {"type": "line", "color": "#1010FF", "strokeWidth": 1.2}, "encoding": {}},
     {"data": {"name": "best"}, "transform": [{"filter": "datum.run === 'Post' && datum.var === 'WPR'"}], "mark": {"type": "line", "color": "#138A13", "strokeWidth": 1.3}, "encoding": {}},
     {"data": {"name": "obs"}, "transform": [{"filter": "datum.var === 'WPR'"}], "mark": {"type": "circle", "color": "#FF0000", "size": 20, "opacity": 1}, "encoding": {}}
    ]},
   {"width": 168, "height": 100,
    "encoding": {
     "x": {"field": "t", "type": "quantitative", "scale": {"domain": [0, 7100], "nice": false}, "axis": {"values": [0,1000,2000,3000,4000,5000,6000,7000], "labelExpr": "datum.value % 2000 === 0 ? datum.label : ''", "format": "d", "title": null}},
     "y": {"field": "val", "type": "quantitative", "scale": {"domain": [0, 250], "nice": false}, "axis": {"values": [0,25,50,75,100,125,150,175,200,225,250], "labelExpr": "datum.value % 50 === 0 ? datum.label : ''", "format": "d", "title": "MLS39-3 - GOR (m3/m3)"}}
    },
    "layer": [
     {"data": {"name": "band"}, "transform": [{"filter": "datum.run === 'Post' && datum.var === 'GOR'"}], "mark": {"type": "area", "color": "#22B4EC", "opacity": 0.9}, "encoding": {"y2": {"field": "hi"}}},
     {"data": {"name": "base"}, "transform": [{"filter": "datum.var === 'GOR'"}], "mark": {"type": "line", "color": "#1010FF", "strokeWidth": 1.2}, "encoding": {}},
     {"data": {"name": "best"}, "transform": [{"filter": "datum.run === 'Post' && datum.var === 'GOR'"}], "mark": {"type": "line", "color": "#138A13", "strokeWidth": 1.3}, "encoding": {}},
     {"data": {"name": "obs"}, "transform": [{"filter": "datum.var === 'GOR'"}], "mark": {"type": "circle", "color": "#FF0000", "size": 20, "opacity": 1}, "encoding": {}}
    ]}
  ]},
  {"width": 168, "height": 106,
   "encoding": {
    "x": {"field": "t", "type": "quantitative", "scale": {"domain": [0, 7100], "nice": false}, "axis": {"values": [0,1000,2000,3000,4000,5000,6000,7000], "labelExpr": "datum.value % 2000 === 0 ? datum.label : ''", "format": "d", "title": "Time (days)"}},
    "y": {"field": "val", "type": "quantitative", "scale": {"domain": [0, 350], "nice": false}, "axis": {"values": [0,50,100,150,200,250,300,350], "labelExpr": "datum.value % 100 === 0 ? datum.label : ''", "format": "d", "title": "MLS39-3 - BHP (kgf/cm2)"}}
   },
   "layer": [
    {"data": {"name": "band"}, "transform": [{"filter": "datum.run === 'Post' && datum.var === 'BHP'"}], "mark": {"type": "area", "color": "#22B4EC", "opacity": 0.9}, "encoding": {"y2": {"field": "hi"}}},
    {"data": {"name": "base"}, "transform": [{"filter": "datum.var === 'BHP'"}], "mark": {"type": "line", "color": "#1010FF", "strokeWidth": 1.2}, "encoding": {}},
    {"data": {"name": "best"}, "transform": [{"filter": "datum.run === 'Post' && datum.var === 'BHP'"}], "mark": {"type": "line", "color": "#138A13", "strokeWidth": 1.3}, "encoding": {}},
    {"data": {"name": "obs"}, "transform": [{"filter": "datum.var === 'BHP'"}], "mark": {"type": "circle", "color": "#FF0000", "size": 20, "opacity": 1}, "encoding": {}}
   ]}
 ]
}
]
}
